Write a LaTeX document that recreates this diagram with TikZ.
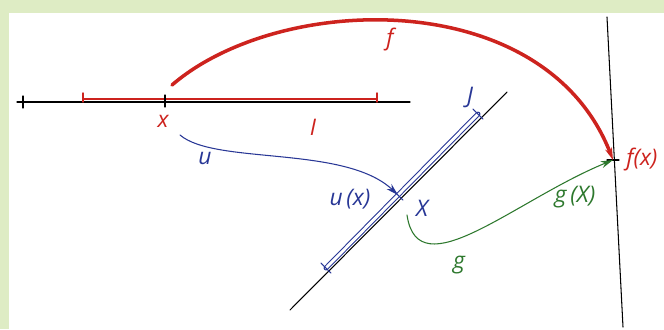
\documentclass[tikz,border=0pt]{standalone}
\usepackage{fontspec}
\setmainfont{Open Sans}
\usetikzlibrary{arrows.meta}
\definecolor{redf}{RGB}{205,35,30}
\definecolor{blueu}{RGB}{40,55,150}
\definecolor{greeng}{RGB}{45,120,45}
\definecolor{paper}{RGB}{222,236,196}
\begin{document}
\begin{tikzpicture}[x=0.02cm, y=-0.02cm, font=\fontsize{13}{15}\selectfont\itshape, line join=round, line cap=round, semithick, >={Stealth[length=7pt,width=4pt]}]
	\fill[paper] (0,0) rectangle (664,329);
	\fill[white] (9,13) rectangle (664,329);
	\useasboundingbox (0,0) rectangle (664,329);
	% points
	\coordinate (x) at (165,102);
	\coordinate (ux) at (398,195);
	\coordinate (fx) at (613,160);
	% the line of x with I
	\draw (17,102)--(410,102);
	\draw (23,96)--(23,108);
	\draw[redf, thick] (83,99)--(377,99) (83,93)--(83,102) (377,93)--(377,102);
	\draw (x)++(0,-7)--++(0,12);
	\node[redf] (xl) at (163,121) {x};
	\node[redf] (Il) at (313,127) {I};
	% the line with J
	\draw (290,310)--(507,92);
	\draw[blueu, double=white, double distance=1.6pt] (326,268)--(478,114);
	\draw[blueu] (321,263)--(331,273) (473,109)--(483,119);
	\draw[blueu] (ux)++(-5,-5)--++(10,10);
	\node[blueu] (Jl) at (470,97) {J};
	\node[blueu] (uxl) at (350,199) {u\,(x)};
	\node[blueu] (Xl) at (422,208) {X};
	% the line of f(x)
	\draw (607,17)--(623,327);
	\draw (fx)++(-6,0)--++(12,0);
	\node[redf, anchor=west] (fxl) at (620,159) {f(x)};
	% maps
	\draw[redf, line width=2pt, ->] (172,85) .. controls (280,-8) and (545,-15) .. (fx);
	\node[redf] (fl) at (390,40) {f};
	\draw[blueu, ->] (180,135) .. controls (215,165) and (345,145) .. (ux);
	\node[blueu] (ul) at (205,158) {u};
	\draw[greeng, ->] (407,215) .. controls (418,290) and (515,200) .. (fx);
	\node[greeng] (gl) at (459,265) {g};
	\node[greeng] (gXl) at (575,197) {g\,(X)};
\end{tikzpicture}
\end{document}
